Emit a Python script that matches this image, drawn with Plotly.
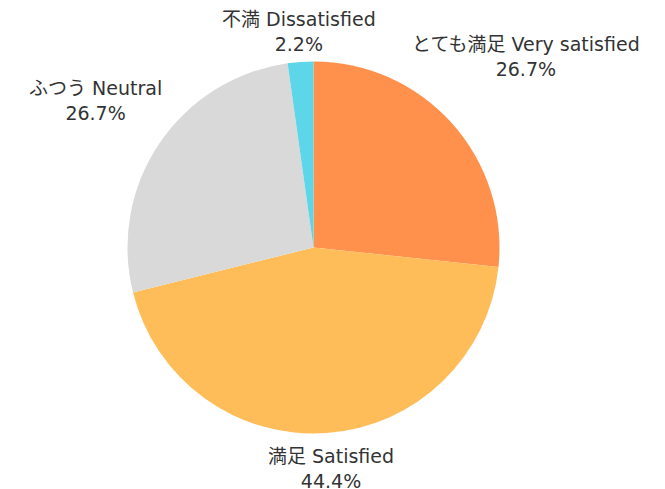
import plotly.graph_objects as go

labels = ["とても満足 Very satisfied", "満足 Satisfied", "ふつう Neutral", "不満 Dissatisfied"]
values = [12, 20, 12, 1]
colors = ["#FF914D", "#FFBD59", "#D9D9D9", "#5CD6E8"]

# page body has an 8px default margin; figure is offset by it
OFF = 8
W, H = 665 - 2 * OFF, 489 - OFF
# pie geometry (window pixels)
cx, cy, r = 313.5 - OFF, 247.5 - OFF, 186
# label anchor centres (window pixels), same order as labels
label_px = [(526, 56), (331, 468), (95, 101), (299, 31)]

total = sum(values)
FONT = "DejaVu Sans, Noto Sans CJK JP, sans-serif"

fig = go.Figure(go.Pie(
    labels=labels,
    values=values,
    sort=False,
    direction="clockwise",
    rotation=0,
    marker=dict(colors=colors, line=dict(width=0)),
    textinfo="none",
    showlegend=False,
    hoverinfo="label+percent",
    domain=dict(x=[(cx - r) / W, (cx + r) / W], y=[(H - cy - r) / H, (H - cy + r) / H]),
))

for lab, v, (px, py) in zip(labels, values, label_px):
    fig.add_annotation(
        x=(px - OFF) / W, y=1 - (py - OFF) / H, xref="paper", yref="paper",
        text=f"{lab}<br>{v / total * 100:.1f}%",
        showarrow=False, xanchor="center", yanchor="middle", align="center",
        font=dict(size=19, color="#333333", family=FONT),
    )

fig.update_layout(
    width=W, height=H,
    margin=dict(l=0, r=0, t=0, b=0),
    paper_bgcolor="white",
    plot_bgcolor="white",
)
fig.write_html("out.html")
